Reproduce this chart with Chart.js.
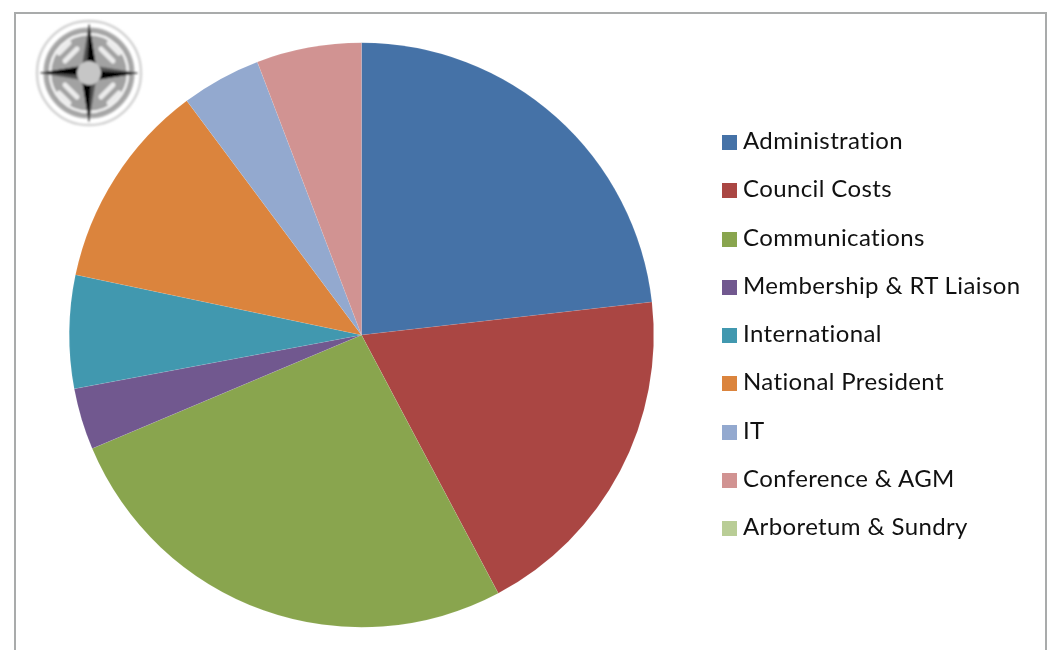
<!DOCTYPE html>
<html>
<head>
<meta charset="utf-8">
<title>Budget pie</title>
<script src="https://cdn.jsdelivr.net/npm/chart.js@4"></script>
<style>
  html, body { margin: 0; padding: 0; background: #fff; }
  #wrap { position: relative; width: 1048px; height: 650px; overflow: hidden; }
  #frame { position: absolute; left: 14px; top: 12px; width: 1033px; height: 660px; box-sizing: border-box;
    border: solid #a9abab; border-width: 2px 2px 0 2px; }
  #pie { position: absolute; left: 0; top: 0; }
  #logo { position: absolute; left: 30px; top: 18px; }
  #legend { position: absolute; left: 722px; top: 116px; margin: 0; padding: 0; list-style: none;
    font-family: Lato, sans-serif; font-size: 24px; color: #111; }
  #legend li { height: 48.25px; line-height: 48.25px; white-space: nowrap; letter-spacing: 0.38px; }
  #legend i { display: inline-block; width: 15px; height: 15px; margin-right: 6px; vertical-align: -1px; }
</style>
</head>
<body>
<div id="wrap">
  <div id="frame"></div>
  <canvas id="pie" width="1048" height="650"></canvas>
  <svg id="logo" width="118" height="110" viewBox="-59 -55 118 110">
    <defs><filter id="soft" x="-10%" y="-10%" width="120%" height="120%"><feGaussianBlur stdDeviation="1"/></filter></defs>
    <g filter="url(#soft)">
      <circle r="52" fill="none" stroke="#d2d2d2" stroke-width="2.5"/>
      <circle r="44" fill="#a2a2a2" stroke="#a8a8a8" stroke-width="3"/>
      <circle r="39" fill="none" stroke="#f4f4f4" stroke-width="2.5"/>
      <g fill="none" stroke="#ececec" stroke-width="5" stroke-linecap="round">
        <path d="M-24 -12 L-12 -24"/><path d="M-30 -20 L-20 -30"/>
        <path d="M24 -12 L12 -24"/><path d="M30 -20 L20 -30"/>
        <path d="M-24 12 L-12 24"/><path d="M-30 20 L-20 30"/>
        <path d="M24 12 L12 24"/><path d="M30 20 L20 30"/>
      </g>
      <path d="M0 -50 L7 -7 L50 0 L7 7 L0 50 L-7 7 L-50 0 L-7 -7 Z" fill="#555"/>
      <path d="M0 -50 L7 -7 L-2 -4 Z M50 0 L7 7 L4 -2 Z M0 50 L-7 7 L2 4 Z M-50 0 L-7 -7 L-4 2 Z" fill="#000"/>
      <circle r="12" fill="#c6c6c6"/>
    </g>
  </svg>
  <ul id="legend"></ul>
</div>
<script>
const categories = ['Administration', 'Council Costs', 'Communications', 'Membership & RT Liaison',
  'International', 'National President', 'IT', 'Conference & AGM', 'Arboretum & Sundry'];
const shares = [23.2, 19.05, 26.4, 3.4, 6.25, 11.5, 4.4, 5.8, 0];
const colors = ['#4572a7', '#aa4643', '#89a54e', '#71588f', '#4198af', '#db843d', '#93a9cf', '#d19392', '#b9cd96'];

document.addEventListener('DOMContentLoaded', () => {
  new Chart(document.getElementById('pie').getContext('2d'), {
    type: 'pie',
    data: {
      labels: categories,
      datasets: [{
        data: shares,
        backgroundColor: colors,
        borderColor: 'rgba(255,255,255,0.15)',
        borderWidth: 0.5
      }]
    },
    options: {
      responsive: false,
      animation: false,
      devicePixelRatio: 1,
      layout: { padding: { left: 69, top: 42, right: 394, bottom: 22 } },
      plugins: { legend: { display: false }, tooltip: { enabled: false } }
    }
  });

  // Legend is plain HTML so its rows can sit where the original has them
  const legend = document.getElementById('legend');
  categories.forEach((name, i) => {
    const li = document.createElement('li');
    const swatch = document.createElement('i');
    swatch.style.background = colors[i];
    li.appendChild(swatch);
    li.appendChild(document.createTextNode(name));
    legend.appendChild(li);
  });
});
</script>
</body>
</html>
